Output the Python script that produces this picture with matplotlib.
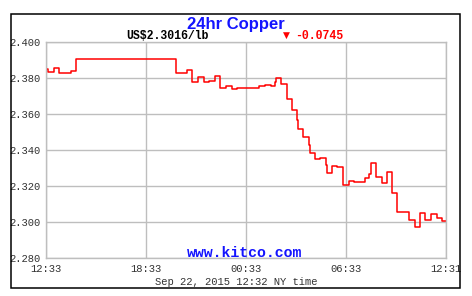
import matplotlib
matplotlib.use("Agg")
import matplotlib.pyplot as plt
from matplotlib.patches import Rectangle

# hours after 12:33 (Sep 21) and copper price, step changes
hours = [0.06, 0.12, 0.48, 0.80, 1.48, 1.80, 7.77, 8.44, 8.78, 9.14,
         9.48, 9.80, 10.14, 10.44, 10.82, 11.14, 11.48, 12.80, 13.12, 13.48,
         13.76, 13.80, 14.12, 14.44, 14.48, 14.78, 15.08, 15.12, 15.44, 15.78,
         15.84, 16.10, 16.40, 16.78, 16.82, 17.12, 17.46, 17.80, 18.14, 18.44,
         19.10, 19.34, 19.48, 19.78, 20.12, 20.44, 20.74, 21.06, 21.44, 21.78,
         22.10, 22.44, 22.74, 23.10, 23.44, 23.76, 23.97]
price = [2.3848, 2.3833, 2.3854, 2.3828, 2.3837, 2.3904, 2.3826, 2.3843, 2.3776, 2.3804,
         2.3776, 2.3785, 2.3811, 2.3746, 2.3756, 2.3739, 2.3743, 2.3756, 2.3759, 2.3756,
         2.3778, 2.3800, 2.3767, 2.3722, 2.3682, 2.3621, 2.3565, 2.3515, 2.3471, 2.3429,
         2.3382, 2.3348, 2.3357, 2.3315, 2.3272, 2.3309, 2.3306, 2.3204, 2.3226, 2.3221,
         2.3244, 2.3267, 2.3326, 2.3248, 2.3215, 2.3279, 2.3159, 2.3053, 2.3058, 2.3011,
         2.2972, 2.3048, 2.3011, 2.3043, 2.3021, 2.3008, 2.3008]

x_ticks = [0, 6, 12, 18, 23.967]
x_labels = ["12:33", "18:33", "00:33", "06:33", "12:31"]
y_ticks = [2.280, 2.300, 2.320, 2.340, 2.360, 2.380, 2.400]

W, H = 472, 296
fig = plt.figure(figsize=(W / 100, H / 100), dpi=100)
fig.patch.set_facecolor("white")

def fx(px):
    return px / W

def fy(py):
    return 1 - py / H

ax = fig.add_axes([fx(46), fy(258), fx(445.7) - fx(46), fy(42) - fy(258)])
grid_c = "#bebebe"
ax.step(hours, price, where="post", color="#ff0000", lw=1.1)
ax.set_xlim(0, 23.967)
ax.set_ylim(2.280, 2.400)
ax.set_xticks(x_ticks)
ax.set_xticklabels(x_labels)
ax.set_yticks(y_ticks)
ax.set_yticklabels([f"{v:.3f}" for v in y_ticks])
ax.grid(True, color=grid_c, lw=1.0)
ax.set_axisbelow(True)
for s in ax.spines.values():
    s.set_color(grid_c)
    s.set_linewidth(1.0)
ax.tick_params(length=0, pad=4, labelsize=7.6, labelcolor="#333333")
for lab in ax.get_xticklabels() + ax.get_yticklabels():
    lab.set_family("Liberation Mono")

# outer frame
fig.patches.append(Rectangle((fx(11), fy(288)), fx(460) - fx(11), fy(14) - fy(288),
                             transform=fig.transFigure, fill=False,
                             edgecolor="black", lw=1.1))

fig.text(fx(235.5), fy(24), "24hr Copper", ha="center", va="center",
         color="#1414ff", fontsize=12, fontweight="bold", family="Liberation Sans")
fig.text(fx(126.5), fy(36), "US$2.3016/lb", ha="left", va="center",
         color="black", fontsize=8.3, fontweight="bold", family="Liberation Mono")
fig.text(fx(286), fy(35), "\u25bc", ha="center", va="center",
         color="#ff0000", fontsize=6.5, family="DejaVu Sans")
fig.text(fx(295.5), fy(36), "-0.0745", ha="left", va="center",
         color="#ff0000", fontsize=8.3, fontweight="bold", family="Liberation Mono")
fig.text(fx(244.7), fy(253), "www.kitco.com", ha="center", va="center",
         color="#1414ff", fontsize=10.7, fontweight="bold", family="Liberation Mono")
fig.text(fx(236), fy(282), "Sep 22, 2015 12:32 NY time", ha="center", va="center",
         color="#333333", fontsize=7.6, family="Liberation Mono")

fig.savefig("out.png", dpi=100, facecolor="white")
